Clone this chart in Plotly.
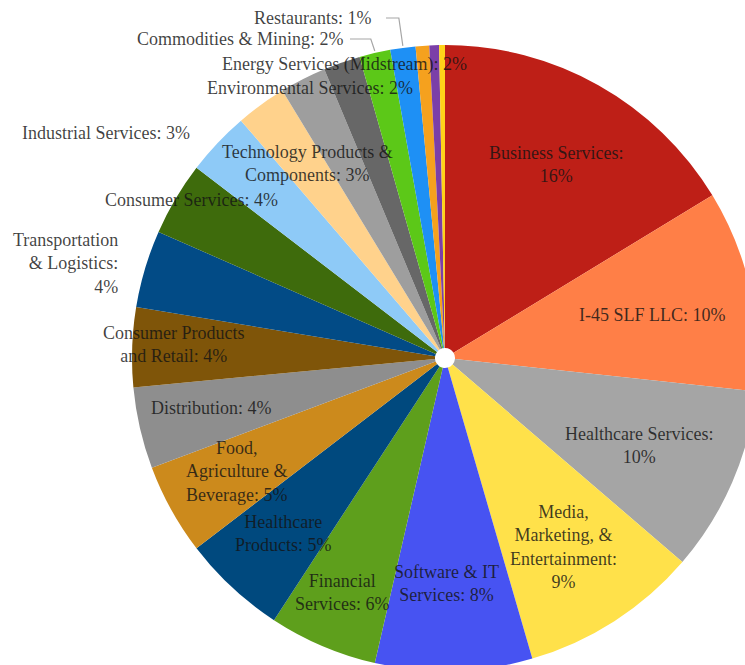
import math
import plotly.graph_objects as go

# ---------------- data ----------------
categories = [
    "Business Services", "I-45 SLF LLC", "Healthcare Services",
    "Media, Marketing, & Entertainment", "Software & IT Services",
    "Financial Services", "Healthcare Products", "Food, Agriculture & Beverage",
    "Distribution", "Consumer Products and Retail", "Transportation & Logistics",
    "Consumer Services", "Industrial Services", "Technology Products & Components",
    "Environmental Services", "Energy Services (Midstream)", "Commodities & Mining",
    "Restaurants", "Other (a)", "Other (b)", "Other (c)",
]
values = [16.3, 10.4, 9.6, 9.2, 8.1, 5.6, 5.4, 4.7, 4.2, 4.1, 4.0, 3.8,
          3.3, 2.6, 2.4, 1.9, 1.6, 1.3, 0.7, 0.5, 0.3]
show_label = [True] * 18 + [False] * 3

# ---------------- style / layout ----------------
colors = ["#BE1F17", "#FF7F47", "#A5A5A5", "#FFE14A", "#4753F2", "#5E9F1C",
          "#00497E", "#CC8A1C", "#8E8E8E", "#7F5509", "#024B86", "#3E6B0C",
          "#8ECAF7", "#FFD28C", "#9E9E9E", "#676767", "#5CC818", "#1E90F5",
          "#F5A11E", "#7B3FA8", "#FFD319"]

# display wrapping of the label names
wrapped = {
    "Business Services": "Business Services:",
    "Healthcare Services": "Healthcare Services:",
    "Media, Marketing, & Entertainment": "Media,<br>Marketing, &<br>Entertainment:",
    "Software & IT Services": "Software & IT<br>Services:",
    "Financial Services": "Financial<br>Services:",
    "Healthcare Products": "Healthcare<br>Products:",
    "Food, Agriculture & Beverage": "Food,<br>Agriculture &<br>Beverage:",
    "Consumer Products and Retail": "Consumer Products<br>and Retail:",
    "Transportation & Logistics": "Transportation<br>& Logistics:",
    "Technology Products & Components": "Technology Products &<br>Components:",
}
# names whose percentage goes on a new line
pct_newline = {"Business Services", "Healthcare Services",
               "Media, Marketing, & Entertainment", "Transportation & Logistics"}

# label anchor positions in pixels (centre of the text block)
label_px = [
    (556, 164), (652, 315), (639, 445), (563, 547), (446, 583), (342, 592),
    (283, 533), (236, 472), (212, 408), (174, 344), (120, 263), (191, 200),
    (106, 133), (307, 163), (310, 88), (344, 64), (240, 39), (312, 18),
]
leader = {"Commodities & Mining": (350, 39), "Restaurants: 1%": None,
          "Restaurants": (386, 18)}

W, H = 760, 672
cx, cy, R = 445, 358, 313
font_family = "Liberation Serif, Times New Roman, serif"

def px2paper(x, y):
    return x / W, 1 - y / H

total = sum(values)

fig = go.Figure(go.Pie(
    labels=categories,
    values=values,
    sort=False,
    direction="clockwise",
    rotation=0,
    hole=0.032,
    marker=dict(colors=colors, line=dict(width=0)),
    textinfo="none",
    hoverinfo="label+percent",
    showlegend=False,
    domain=dict(x=[(cx - R) / W, (cx + R) / W],
                y=[1 - (cy + R) / H, 1 - (cy - R) / H]),
))

annotations = []
shapes = []
cum = 0.0
for i, (name, v) in enumerate(zip(categories, values)):
    mid = (cum + v / 2) / total * 2 * math.pi
    cum += v
    if not show_label[i]:
        continue
    pct = round(v / total * 100)
    base = wrapped.get(name, name + ":")
    sep = "<br>" if name in pct_newline else " "
    text = f"{base}{sep}{pct}%"
    lx, ly = label_px[i]
    xp, yp = px2paper(lx, ly)
    is_right = name == "Transportation & Logistics"
    annotations.append(dict(
        x=xp, y=yp, xref="paper", yref="paper", text=text, showarrow=False,
        xanchor="right" if is_right else "center", yanchor="middle",
        align="right" if is_right else "center",
        font=dict(family=font_family, size=18, color="rgba(20,20,20,0.82)"),
    ))
    if name in leader and leader[name] is not None:
        sx, sy = leader[name]
        ex = cx + R * math.sin(mid)
        ey = cy - R * math.cos(mid)
        p0 = px2paper(sx, sy)
        p1 = px2paper(ex - 4, sy)
        p2 = px2paper(ex, ey - 2)
        shapes.append(dict(
            type="path", xref="paper", yref="paper",
            path=f"M {p0[0]},{p0[1]} L {p1[0]},{p1[1]} L {p2[0]},{p2[1]}",
            line=dict(color="#A6A6A6", width=1.2),
        ))

fig.update_layout(
    width=W, height=H, autosize=False,
    margin=dict(l=0, r=0, t=0, b=0),
    paper_bgcolor="white", plot_bgcolor="white",
    annotations=annotations, shapes=shapes,
)

fig.write_html(
    "out.html",
    config={"displayModeBar": False},
    post_script="document.body.style.margin='0';document.body.style.overflow='hidden';",
)
